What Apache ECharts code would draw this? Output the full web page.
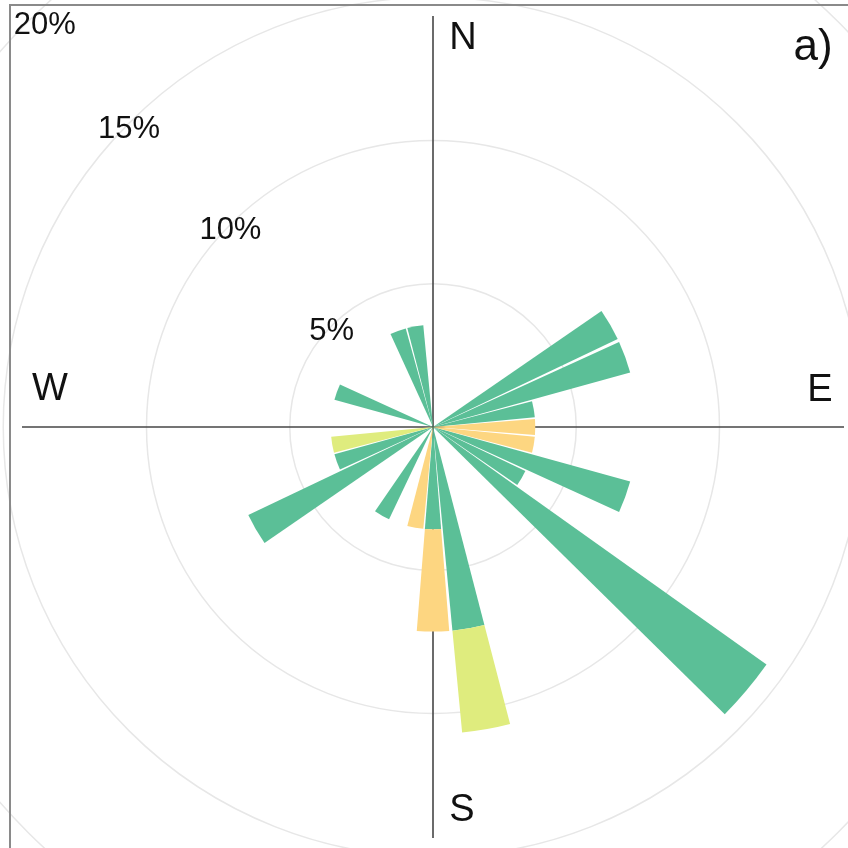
<!DOCTYPE html>
<html>
<head>
<meta charset="utf-8">
<script src="https://cdn.jsdelivr.net/npm/echarts@6/dist/echarts.min.js"></script>
<style>
  html, body { margin: 0; padding: 0; background: #ffffff; }
  #chart { width: 848px; height: 848px; }
</style>
</head>
<body>
<div id="chart"></div>
<script>
// Wind directions, 10 degree sectors, clockwise from north
const directions = ['0','10','20','30','40','50','60','70','80','90','100','110',
  '120','130','140','150','160','170','180','190','200','210','220','230',
  '240','250','260','270','280','290','300','310','320','330','340','350'];

// Frequency (%) per sector for each class, stacked outward
const classGreen = [0, 0, 0, 0, 0, 0, 7.14, 7.14, 3.57, 0, 0, 7.14,
  3.57, 14.29, 0, 0, 0, 7.14, 3.57, 0, 0, 3.57, 0, 0,
  7.14, 3.57, 0, 0, 0, 3.57, 0, 0, 0, 0, 3.57, 3.57];
const classYellow = [0, 0, 0, 0, 0, 0, 0, 0, 0, 3.57, 3.57, 0,
  0, 0, 0, 0, 0, 0, 3.57, 3.57, 0, 0, 0, 0,
  0, 0, 0, 0, 0, 0, 0, 0, 0, 0, 0, 0];
const classLime = [0, 0, 0, 0, 0, 0, 0, 0, 0, 0, 0, 0,
  0, 0, 0, 0, 0, 3.57, 0, 0, 0, 0, 0, 0,
  0, 0, 3.57, 0, 0, 0, 0, 0, 0, 0, 0, 0];

// Ring ticks (%) and compass labels
const ringTicks = [5, 10, 15, 20];
const compassLabels = ['N', 'E', 'S', 'W'];
const panelTag = 'a)';

const FONT = '"Liberation Sans", Arial, sans-serif';
const CENTER = [433, 427];
const OUTER_R = 573;   // radius of the 20 % ring
const CROSS_R = 411;   // length of the N-S / E-W lines

const chart = echarts.init(document.getElementById('chart'), null, { renderer: 'canvas' });

const hidden = { show: false };

const compassPos = [[463, 39], [820, 391], [462, 811], [50, 390]];

const option = {
  backgroundColor: '#ffffff',
  animation: false,
  polar: [
    { center: CENTER, radius: OUTER_R },
    { center: CENTER, radius: CROSS_R },
    { center: CENTER, radius: OUTER_R }
  ],
  angleAxis: [
    {
      polarIndex: 0, type: 'category', data: directions,
      startAngle: 95, clockwise: true,
      axisLine: hidden, axisTick: hidden, axisLabel: hidden, splitLine: hidden, splitArea: hidden
    },
    {
      polarIndex: 1, type: 'value', min: 0, max: 360, interval: 90,
      startAngle: 90, clockwise: true,
      axisLine: hidden, axisTick: hidden, axisLabel: hidden,
      splitLine: { show: true, lineStyle: { color: '#474747', width: 1.6 } }
    },
    {
      polarIndex: 2, type: 'value', min: 0, max: 360,
      startAngle: 135, clockwise: true,
      axisLine: hidden, axisTick: hidden, axisLabel: hidden, splitLine: hidden
    }
  ],
  radiusAxis: [
    {
      polarIndex: 0, type: 'value', min: 0, max: ringTicks[ringTicks.length - 1], interval: ringTicks[0],
      axisLine: hidden, axisTick: hidden, axisLabel: hidden,
      splitLine: { show: true, lineStyle: { color: '#e7e7e7', width: 1.5 } }
    },
    {
      polarIndex: 1, type: 'value', min: 0, max: 1,
      axisLine: hidden, axisTick: hidden, axisLabel: hidden, splitLine: hidden
    },
    {
      polarIndex: 2, type: 'value', min: 0, max: ringTicks[ringTicks.length - 1], interval: ringTicks[0],
      axisLine: hidden, axisTick: hidden, splitLine: hidden,
      axisLabel: {
        show: true, margin: 0, align: 'center', verticalAlign: 'middle',
        showMinLabel: false,
        fontFamily: FONT, fontSize: 31, color: '#111111',
        formatter: function (v) {
          if (ringTicks.indexOf(v) < 0) return '';
          return v === ringTicks[ringTicks.length - 1] ? '{edge|' + v + '%}' : '{ring|' + v + '%}';
        },
        rich: {
          ring: { fontFamily: FONT, fontSize: 31, color: '#111111', padding: [12, 0, 0, 0] },
          edge: { fontFamily: FONT, fontSize: 31, color: '#111111', padding: [8, 0, 0, 34] }
        }
      }
    }
  ],
  series: [
    {
      type: 'bar', coordinateSystem: 'polar', polarIndex: 0, stack: 'freq',
      data: classGreen, barCategoryGap: '9%',
      itemStyle: { color: '#5bbf97' }
    },
    {
      type: 'bar', coordinateSystem: 'polar', polarIndex: 0, stack: 'freq',
      data: classYellow, barCategoryGap: '9%',
      itemStyle: { color: '#fdd681' }
    },
    {
      type: 'bar', coordinateSystem: 'polar', polarIndex: 0, stack: 'freq',
      data: classLime, barCategoryGap: '9%',
      itemStyle: { color: '#dfec7e' }
    }
  ],
  graphic: [
    {
      type: 'rect', z: 100, silent: true,
      shape: { x: 10, y: 5, width: 900, height: 900 },
      style: { fill: 'none', stroke: '#8a8a8a', lineWidth: 2 }
    }
  ].concat(compassLabels.map(function (t, i) {
    return {
      type: 'text', z: 100, x: compassPos[i][0], y: compassPos[i][1],
      style: {
        text: t, font: '38px ' + FONT, fill: '#111111',
        align: 'center', verticalAlign: 'middle',
        textAlign: 'center', textVerticalAlign: 'middle'
      }
    };
  })).concat([
    {
      type: 'text', z: 100, x: 813, y: 48,
      style: {
        text: panelTag, font: '44px ' + FONT, fill: '#111111',
        align: 'center', verticalAlign: 'middle',
        textAlign: 'center', textVerticalAlign: 'middle'
      }
    }
  ])
};

chart.setOption(option);
</script>
</body>
</html>
